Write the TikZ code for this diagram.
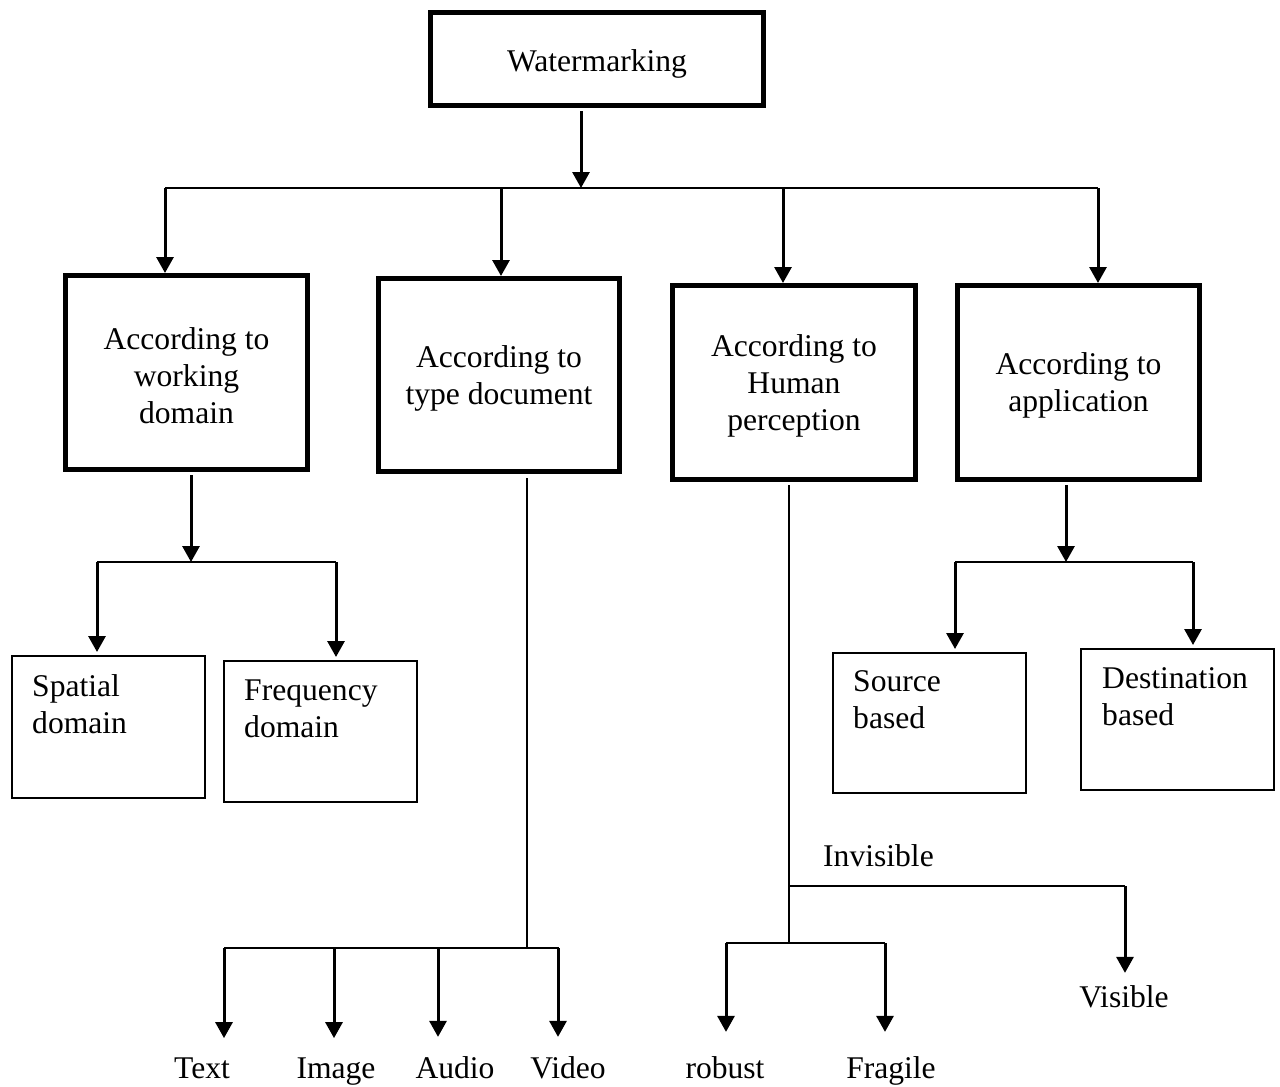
\documentclass[tikz,border=0pt]{standalone}
\usepackage{fontspec}
\setmainfont{Liberation Serif}
\usetikzlibrary{arrows.meta}

\begin{document}
\begin{tikzpicture}[x=1pt, y=-1pt,
    font=\fontsize{31.6}{37}\selectfont,
    thickbox/.style={draw, line width=5pt, rectangle, inner sep=0pt},
    boxlabel/.style={label={[align=center, inner sep=0pt, yshift=-3pt]center:#1}},
    thinbox/.style={draw, line width=2pt, rectangle, inner sep=0pt},
    boxtext/.style={anchor=north west, align=left, inner sep=0pt},
    leaf/.style={anchor=base, inner sep=0pt},
    ln/.style={line width=2pt},
    arr/.style={line width=3pt, -{Triangle[width=17pt, length=16pt]}}]

  \useasboundingbox (0,0) rectangle (1280,1087);

  % root and the four classification criteria
  \node[thickbox, minimum width=333pt, minimum height=93pt,
        label={[inner sep=0pt, yshift=-5pt]center:Watermarking}] (wm) at (597,59) {};
  \node[thickbox, minimum width=242pt, minimum height=194pt, boxlabel={According to\\working\\domain}] (b1) at (186.5,372.5) {};
  \node[thickbox, minimum width=241pt, minimum height=193pt, boxlabel={According to\\type document}] (b2) at (499,375) {};
  \node[thickbox, minimum width=243pt, minimum height=194pt, boxlabel={According to\\Human\\perception}] (b3) at (794,382.5) {};
  \node[thickbox, minimum width=242pt, minimum height=194pt, boxlabel={According to\\application}] (b4) at (1078.5,382.5) {};

  % working-domain leaves
  \node[thinbox, minimum width=193pt, minimum height=142pt] (spt) at (108.5,727) {};
  \node[boxtext] (sptT) at (32,674.4) {Spatial\\domain};
  \node[thinbox, minimum width=193pt, minimum height=141pt] (frq) at (320.5,731.5) {};
  \node[boxtext] (frqT) at (244,679.1) {Frequency\\domain};

  % application leaves
  \node[thinbox, minimum width=193pt, minimum height=140pt] (src) at (929.5,723) {};
  \node[boxtext] (srcT) at (853,670.6) {Source\\based};
  \node[thinbox, minimum width=193pt, minimum height=141pt] (dst) at (1177.5,719.5) {};
  \node[boxtext] (dstT) at (1102,667) {Destination\\based};

  % document-type leaves
  \node[leaf] (txt) at (202,1078) {Text};
  \node[leaf] (img) at (336,1078) {Image};
  \node[leaf] (aud) at (455,1078) {Audio};
  \node[leaf] (vid) at (568,1078) {Video};

  % perception leaves
  \node[leaf] (rob) at (725,1078) {robust};
  \node[leaf] (frg) at (891,1078) {Fragile};
  \node[leaf] (vis) at (1124,1007) {Visible};
  \node[anchor=base west, inner sep=0pt] (inv) at (823,866) {Invisible};

  % junction points
  \coordinate (jTop) at (581,188);
  \coordinate (bL) at (165,188);
  \coordinate (bR) at (1098,188);
  \coordinate (j2) at (501,188);
  \coordinate (j3) at (783,188);

  \coordinate (j1) at (191,562);
  \coordinate (sL) at (97,562);
  \coordinate (sR) at (336,562);

  \coordinate (t0) at (527,948);
  \coordinate (tL) at (224,948);
  \coordinate (tR) at (559,948);
  \coordinate (tI) at (334,948);
  \coordinate (tA) at (438,948);
  \coordinate (tV) at (558,948);

  \coordinate (h0) at (789,943);
  \coordinate (v0) at (789,886);
  \coordinate (v1) at (1125,886);
  \coordinate (rL) at (726,943);
  \coordinate (rR) at (885,943);

  \coordinate (k1) at (1066,562);
  \coordinate (dL) at (955,562);
  \coordinate (dR) at (1193,562);

  % root to criteria
  \draw[arr, shorten <=3pt] (wm.south -| jTop) -- (jTop);
  \draw[ln] (bL) -- (bR);
  \draw[arr] (bL) -- (bL |- b1.north);
  \draw[arr] (j2) -- (j2 |- b2.north);
  \draw[arr] (j3) -- (j3 |- b3.north);
  \draw[arr] (bR) -- (bR |- b4.north);

  % working domain
  \draw[arr, shorten <=3pt] (b1.south -| j1) -- (j1);
  \draw[ln] (sL) -- (sR);
  \draw[arr, shorten >=3pt] (sL) -- (sL |- spt.north);
  \draw[arr, shorten >=3pt] (sR) -- (sR |- frq.north);

  % type of document
  \draw[ln, shorten <=4pt] (b2.south -| t0) -- (t0);
  \draw[ln] (tL) -- (tR);
  \draw[arr, shorten >=19pt] (tL) -- (tL |- txt.north);
  \draw[arr, shorten >=19pt] (tI) -- (tI |- img.north);
  \draw[arr, shorten >=19pt] (tA) -- (tA |- aud.north);
  \draw[arr, shorten >=19pt] (tV) -- (tV |- vid.north);

  % human perception
  \draw[ln, shorten <=3pt] (b3.south -| h0) -- (h0);
  \draw[ln] (v0) -- (v1);
  \draw[arr, shorten >=12pt] (v1) -- (v1 |- vis.north);
  \draw[ln] (rL) -- (rR);
  \draw[arr, shorten >=24pt] (rL) -- (rL |- rob.north);
  \draw[arr, shorten >=24pt] (rR) -- (rR |- frg.north);

  % application
  \draw[arr, shorten <=3pt] (b4.south -| k1) -- (k1);
  \draw[ln] (dL) -- (dR);
  \draw[arr, shorten >=3pt] (dL) -- (dL |- src.north);
  \draw[arr, shorten >=3pt] (dR) -- (dR |- dst.north);
\end{tikzpicture}
\end{document}
